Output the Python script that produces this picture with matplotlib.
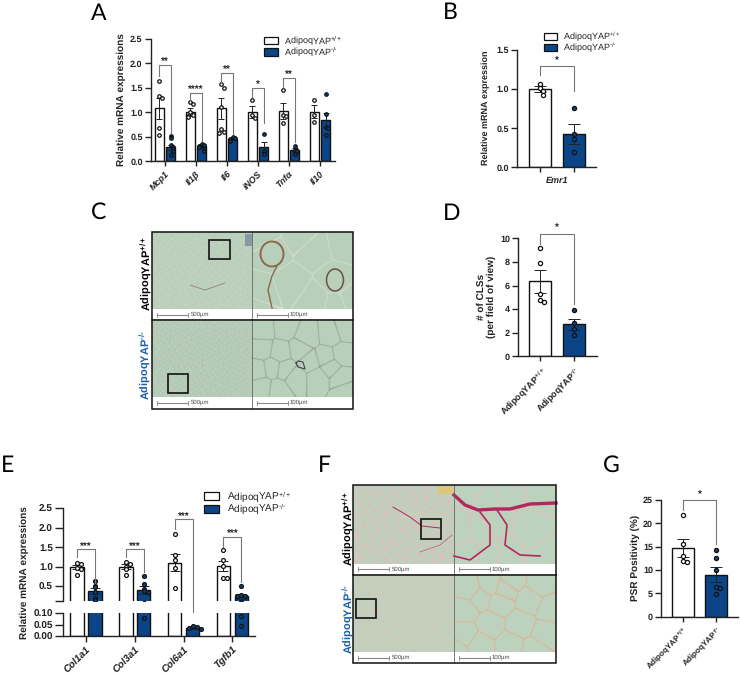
import numpy as np
import matplotlib
matplotlib.use('Agg')
import matplotlib.pyplot as plt
from matplotlib.patches import Rectangle, Ellipse

plt.rcParams['font.family'] = ['Liberation Sans', 'DejaVu Sans']
plt.rcParams['mathtext.fontset'] = 'custom'
plt.rcParams['mathtext.rm'] = 'Liberation Sans'
plt.rcParams['mathtext.bf'] = 'Liberation Sans:bold'
plt.rcParams['mathtext.default'] = 'regular'
plt.rcParams['text.hinting'] = 'no_hinting'
plt.rcParams['text.hinting_factor'] = 1

# panel A
a_genes = ['Mcp1', 'Il1β', 'Il6', 'iNOS', 'Tnfα', 'Il10']
a_wt_mean = [1.08, 1.00, 1.08, 1.01, 1.02, 1.01]
a_wt_err = [0.22, 0.08, 0.21, 0.12, 0.16, 0.13]
a_ko_mean = [0.29, 0.32, 0.46, 0.29, 0.23, 0.84]
a_ko_err = [0.05, 0.03, 0.02, 0.10, 0.04, 0.15]
a_wt_pts = [[1.64, 1.33, 1.30, 0.67, 0.54],
            [1.20, 1.17, 1.00, 0.95, 0.92, 0.90],
            [1.58, 1.50, 1.10, 0.65, 0.60, 0.58],
            [1.24, 0.95, 0.88],
            [1.45, 0.95, 0.93, 0.78],
            [1.24, 0.95, 0.81]]
a_ko_pts = [[0.52, 0.47, 0.33, 0.30, 0.25, 0.20, 0.13],
            [0.36, 0.34, 0.32, 0.30, 0.26, 0.22],
            [0.50, 0.48, 0.46, 0.44, 0.42],
            [0.56, 0.22, 0.14],
            [0.32, 0.24, 0.22, 0.15],
            [1.37, 0.97, 0.70, 0.68, 0.54]]
# group, bracket top, left leg end, right leg end, label
a_sig = [(0, 1.96, 1.74, 0.58, '**'), (1, 1.39, 1.25, 0.42, '****'), (2, 1.81, 1.62, 0.56, '**'),
         (3, 1.49, 1.32, 0.79, '*'), (4, 1.69, 1.51, 0.40, '**')]

# panel B
b_mean = [1.00, 0.43]
b_err = [0.04, 0.13]
b_pts = [[1.07, 1.02, 0.98, 0.93], [0.76, 0.42, 0.36, 0.19]]

# panel D
d_mean = [6.35, 2.70]
d_err = [0.95, 0.45]
d_pts = [[9.2, 7.9, 5.3, 4.8, 4.6], [3.9, 2.8, 2.3, 1.8]]

# panel E
e_genes = ['Col1a1', 'Col3a1', 'Col6a1', 'Tgfb1']
e_wt_mean = [1.00, 1.00, 1.10, 1.03]
e_wt_err = [0.05, 0.06, 0.22, 0.13]
e_ko_mean = [0.37, 0.40, 0.036, 0.24]
e_ko_err = [0.08, 0.10, 0.003, 0.06]
e_wt_pts = [[1.09, 1.06, 0.98, 0.95, 0.80],
            [1.13, 1.08, 1.00, 0.95, 0.80],
            [1.85, 1.30, 1.18, 0.98, 0.45],
            [1.42, 1.17, 1.02, 0.72, 0.70]]
e_ko_pts = [[0.64, 0.50, 0.47, 0.36, 0.20, 0.16],
            [0.77, 0.55, 0.42, 0.38, 0.36, 0.08],
            [0.045, 0.040, 0.035, 0.030],
            [0.50, 0.27, 0.26, 0.25, 0.24, 0.09, 0.045]]
e_sig = [(0, 1.45, 1.26, 0.58, '***'), (1, 1.45, 1.26, 0.87, '***'),
         (2, 2.22, 1.96, -0.15, '***'), (3, 1.77, 1.52, 0.62, '***')]

# panel G
g_mean = [14.7, 9.0]
g_err = [2.0, 1.6]
g_pts = [[21.8, 15.6, 13.0, 11.9, 11.7], [14.2, 12.5, 10.0, 6.3, 6.2, 4.8]]

WT_LABEL = 'AdipoqYAP$^{+/+}$'
KO_LABEL = 'AdipoqYAP$^{\u2010/\u2010}$'
NAVY = '#0b4487'
LABEL_BLUE = '#1a5fa8'
W, H = 740, 674

fig = plt.figure(figsize=(W / 100, H / 100), dpi=100)
bg = fig.add_axes([0, 0, 1, 1])
bg.set_axis_off()


def px_axes(x0, x1, ybot, ytop):
    ax = fig.add_axes([x0 / W, 1 - ybot / H, (x1 - x0) / W, (ybot - ytop) / H])
    ax.patch.set_alpha(0)
    for s in ['top', 'right']:
        ax.spines[s].set_visible(False)
    for s in ['left', 'bottom']:
        ax.spines[s].set_linewidth(1.0)
        ax.spines[s].set_color('#222222')
    ax.tick_params(colors='#222222', width=1.0)
    return ax


def swarm(vals, thresh, step):
    # push points sideways when they sit too close together
    off = []
    placed = []
    for v in vals:
        near = [p for p in placed if abs(p - v) < thresh]
        k = len(near)
        off.append(0 if k == 0 else ((k + 1) // 2) * step * (1 if k % 2 else -1))
        placed.append(v)
    return np.array(off)


def draw_bar(ax, x, mean, err, pts, color, width, cap, ms, thresh, step):
    ax.bar(x, mean, width, color=color, edgecolor='#111111', linewidth=1.0, zorder=2)
    ax.errorbar(x, mean, yerr=err, color='#222222', elinewidth=0.7, capsize=cap, capthick=0.7, zorder=3)
    ax.plot(x + swarm(pts, thresh, step), pts, 'o', ms=ms, mfc=color, mec='#111111', mew=0.9,
            zorder=4, clip_on=ax.get_label() == 'broken')


def bracket(ax, x1, x2, top, left, right, label, size=7, gap=0.01):
    ax.plot([x1, x1, x2, x2], [left, top, top, right], color='#777777', lw=0.8, zorder=5, clip_on=False)
    ax.text((x1 + x2) / 2, top + gap, label, ha='center', va='center', fontsize=size, fontweight='bold',
            color='#222222', clip_on=False)


def legend(x0, x1, h, y1, y2, xt, size):
    for y, c, t in [(y1, 'white', WT_LABEL), (y2, NAVY, KO_LABEL)]:
        bg.add_patch(Rectangle((x0, y), x1 - x0, h, fc=c, ec='#111111', lw=0.9))
        bg.text(xt, y + h / 2, t, fontsize=size, va='center', ha='left', color='#222222')


def two_bar_panel(x0, x1, ybot, ytop, ymax, yticks, ticklabels, centers, mean, err, pts, thresh, step):
    ax = px_axes(x0, x1, ybot, ytop)
    ax.set_xlim(x0, x1)
    ax.set_ylim(0, ymax)
    for i, c in enumerate([('white'), (NAVY)]):
        draw_bar(ax, centers[i], mean[i], err[i], np.array(pts[i]), c, 22, 4.2, 3.0, thresh, step)
    ax.set_yticks(yticks, ticklabels, fontsize=6.5, fontweight='bold')
    ax.tick_params(axis='y', length=4.5, pad=1.5)
    return ax


# panel A
ax = px_axes(151, 335, 161.3, 38.7)
ax.set_xlim(151, 335)
ax.set_ylim(0, 2.5)
a_x = 165 + 31 * np.arange(len(a_genes))
for i in range(len(a_genes)):
    draw_bar(ax, a_x[i] - 5.6, a_wt_mean[i], a_wt_err[i], np.array(a_wt_pts[i]), 'white', 8.6, 2.4, 2.5, 0.09, 2.4)
    draw_bar(ax, a_x[i] + 5.6, a_ko_mean[i], a_ko_err[i], np.array(a_ko_pts[i]), NAVY, 8.6, 2.4, 2.5, 0.05, 2.4)
for g, top, left, right, lab in a_sig:
    bracket(ax, a_x[g] - 5.6, a_x[g] + 5.6, top, left, right, lab, gap=0.07)
ax.set_xticks(a_x, a_genes, rotation=45, ha='right', rotation_mode='anchor',
              fontsize=6.6, fontweight='bold', fontstyle='italic')
ax.set_yticks([0, 0.5, 1, 1.5, 2, 2.5], ['0.0', '0.5', '1.0', '1.5', '2.0', '2.5'], fontsize=6.5, fontweight='bold')
ax.tick_params(axis='y', length=4.5, pad=1.5)
ax.tick_params(axis='x', length=3.5, pad=2.5)
bg.text(121.5, 100, 'Relative mRNA expressions', rotation=90, ha='center', va='center',
        fontsize=7.1, fontweight='bold', color='#222222')
legend(263.5, 277.5, 7.5, 36.7, 48.3, 284, 6.8)

# panel B
ax = two_bar_panel(517.3, 596, 167.3, 50, 1.5, [0, 0.5, 1, 1.5], ['0.0', '0.5', '1.0', '1.5'],
                   [540, 574], b_mean, b_err, b_pts, 0.05, 2.5)
bracket(ax, 540, 574, 1.29, 1.18, 0.98, '*', gap=0.07)
ax.set_xticks([540, 574], ['', ''])
ax.tick_params(axis='x', length=3.5)
bg.text(557, 180.5, 'Emr1', ha='center', va='center', fontsize=6.6, fontweight='bold', fontstyle='italic', color='#222222')
bg.text(486, 108, 'Relative mRNA expression', rotation=90, ha='center', va='center',
        fontsize=6.8, fontweight='bold', color='#222222')
legend(543.5, 557.3, 7, 32.7, 43.7, 563.3, 6.6)

# panel D
ax = two_bar_panel(518.3, 596.7, 356.3, 238.3, 10, [0, 2, 4, 6, 8, 10], ['0', '2', '4', '6', '8', '10'],
                   [540.3, 574], d_mean, d_err, d_pts, 0.45, 3.5)
bracket(ax, 540.3, 574, 10.4, 9.5, 4.4, '*', gap=0.5)
ax.set_xticks([540.3, 574], [WT_LABEL, KO_LABEL], rotation=45, ha='right', rotation_mode='anchor',
              fontsize=6.4, fontweight='bold')
ax.tick_params(axis='x', length=3.5, pad=2.5)
bg.text(486.5, 296.5, '# of CLSs\n(per field of view)', rotation=90, ha='center', va='center', ma='center',
        fontsize=7.4, fontweight='bold', color='#222222', linespacing=1.05)

# panel G
ax = two_bar_panel(661.3, 738.3, 616.7, 500, 25, [0, 5, 10, 15, 20, 25], ['0', '5', '10', '15', '20', '25'],
                   [683, 716.3], g_mean, g_err, g_pts, 1.0, 3.5)
bracket(ax, 683, 716.3, 24.9, 22.8, 15.6, '*', gap=1.2)
ax.set_xticks([683, 716.3], [WT_LABEL, KO_LABEL], rotation=45, ha='right', rotation_mode='anchor',
              fontsize=6.1, fontweight='bold')
ax.tick_params(axis='x', length=3.5, pad=2)
bg.text(635, 558, 'PSR Positivity (%)', rotation=90, ha='center', va='center',
        fontsize=6.9, fontweight='bold', color='#222222')

# panel E, broken y axis
upper = px_axes(63.3, 255, 601.3, 508.3)
lower = px_axes(63.3, 255, 636.3, 613.3)
upper.spines['bottom'].set_visible(False)
e_x = 86 + 48.8 * np.arange(len(e_genes))
for ax_e in [upper, lower]:
    ax_e.set_label('broken')
    ax_e.set_xlim(63.3, 255)
    for i in range(len(e_genes)):
        draw_bar(ax_e, e_x[i] - 8.9, e_wt_mean[i], e_wt_err[i], np.array(e_wt_pts[i]), 'white', 13.3, 3.5, 2.8, 0.05, 4)
        draw_bar(ax_e, e_x[i] + 8.9, e_ko_mean[i], e_ko_err[i], np.array(e_ko_pts[i]), NAVY, 13.3, 3.5, 2.8, 0.03, 4)
upper.set_ylim(0.115, 2.5)
lower.set_ylim(0, 0.1)
upper.set_xticks([])
upper.set_yticks([0.115, 0.5, 1, 1.5, 2, 2.5], ['', '0.5', '1.0', '1.5', '2.0', '2.5'], fontsize=7, fontweight='bold')
lower.set_yticks([0, 0.05, 0.1], ['0.00', '0.05', '0.10'], fontsize=7, fontweight='bold')
for ax_e in [upper, lower]:
    ax_e.tick_params(axis='y', length=6, pad=1.5)
for g, top, left, right, lab in e_sig:
    bracket(upper, e_x[g] - 8.9, e_x[g] + 8.9, top, left, right, lab, gap=0.08)
lower.set_xticks(e_x, e_genes, rotation=45, ha='right', rotation_mode='anchor',
                 fontsize=7.2, fontweight='bold', fontstyle='italic')
lower.tick_params(axis='x', length=4, pad=2)
bg.text(24, 572.5, 'Relative mRNA expressions', rotation=90, ha='center', va='center',
        fontsize=7.5, fontweight='bold', color='#222222')
legend(204, 219.3, 8, 492.3, 505, 226.7, 7.2)


# tissue images: cell outlines around seed points
def tissue(seeds, box, wall, base, thick):
    x0, x1, y0, y1 = box
    xx, yy = np.meshgrid(np.arange(x0, x1, 0.5), np.arange(y0, y1, 0.5))
    sx = np.array([s[0] for s in seeds])
    sy = np.array([s[1] for s in seeds])
    d = np.sqrt((xx[..., None] - sx) ** 2 + (yy[..., None] - sy) ** 2)
    d.sort(axis=-1)
    a = np.clip(1 - (d[..., 1] - d[..., 0]) / thick, 0, 1)[..., None]
    img = np.array(base) * (1 - a) + np.array(wall) * a
    bg.imshow(img, extent=[x0, x1, y1, y0], aspect='auto', interpolation='bilinear', zorder=1)


def lattice(box, step):
    x0, x1, y0, y1 = box
    out = []
    for i in range(int((x1 - x0) / step) + 2):
        for j in range(int((y1 - y0) / step) + 2):
            out.append((x0 + i * step + 0.4 * step * np.sin(j * 2.7 + i * 1.9),
                        y0 + j * step + 0.4 * step * np.cos(i * 2.3 + j * 1.1)))
    return out


GREEN_C = (0.725, 0.812, 0.733)
GREEN_F = (0.745, 0.825, 0.741)

c_tr = [(272, 253), (313, 250), (290, 283), (335, 280), (262, 292), (345, 243), (300, 236), (262, 235),
        (336, 305), (315, 300), (256, 308), (350, 300)]
c_br = [(263, 330), (285, 328), (307, 337), (330, 335), (345, 330), (262, 350), (280, 353), (300, 350), (325, 358),
        (342, 355), (258, 370), (272, 368), (295, 378), (318, 378), (340, 378), (262, 388), (278, 390), (345, 392),
        (330, 368), (310, 362), (285, 370)]
f_tr = [(487, 500), (480, 533), (530, 530), (467, 552), (497, 522), (510, 490), (470, 488), (507, 553), (547, 557),
        (460, 533), (543, 493), (490, 552)]
f_br = [(470, 590), (490, 585), (512, 580), (540, 585), (465, 610), (480, 598), (500, 603), (530, 600), (550, 608),
        (490, 625), (520, 625), (545, 635), (465, 635), (480, 645), (510, 645), (535, 650), (455, 650), (505, 590)]

c_boxes = [(152, 252.3, 232, 309), (252.3, 352.7, 232, 309), (152, 252.3, 320, 397.3), (252.3, 352.7, 320, 397.3)]
f_boxes = [(353, 454.3, 485, 563.7), (454.3, 556, 485, 563.7), (353, 454.3, 574.7, 652.3), (454.3, 556, 574.7, 652.3)]

tissue(lattice(c_boxes[0], 5), c_boxes[0], (0.80, 0.84, 0.77), GREEN_C, 0.8)
tissue(c_tr, c_boxes[1], (0.88, 0.90, 0.85), GREEN_C, 1.1)
tissue(lattice(c_boxes[2], 4), c_boxes[2], (0.67, 0.74, 0.67), GREEN_C, 0.7)
tissue(c_br, c_boxes[3], (0.50, 0.52, 0.48), GREEN_C, 0.9)
tissue(lattice(f_boxes[0], 7), f_boxes[0], (0.90, 0.72, 0.73), GREEN_F, 1.4)
tissue(f_tr, f_boxes[1], (0.92, 0.72, 0.72), GREEN_F, 1.5)
tissue(lattice(f_boxes[2], 4.5), f_boxes[2], (0.88, 0.76, 0.74), GREEN_F, 0.9)
tissue(f_br, f_boxes[3], (0.90, 0.66, 0.56), GREEN_F, 1.5)

# stained bits of the pictures
bg.add_patch(Ellipse((272, 254), 23, 25, fc='none', ec='#8a6a4c', lw=1.4, zorder=2))
bg.add_patch(Ellipse((335, 280), 17, 22, fc='none', ec='#6b5240', lw=1.1, zorder=2))
bg.plot([277, 272, 268, 272], [266, 276, 290, 308], color='#8a6a4c', lw=1.0, zorder=2)
bg.add_patch(Rectangle((245, 234), 6.5, 12, fc='#7c8aa0', ec='none', alpha=0.8, zorder=2))
bg.plot([296, 298, 305, 303, 298, 296], [363, 367, 369, 362, 361, 363], color='#444444', lw=0.8, zorder=2)
bg.plot([190, 205, 225], [285, 290, 283], color='#8a7460', lw=0.5, zorder=2)
bg.add_patch(Rectangle((438, 486), 15, 8, fc='#d9c77a', ec='none', zorder=2))
STAIN = '#b3275f'
bg.plot([454, 465, 478, 495, 510, 530, 556], [495, 505, 510, 509, 509, 504, 503], color=STAIN, lw=2.4, zorder=2)
bg.plot([497, 507, 505, 520, 540], [510, 525, 545, 555, 556], color=STAIN, lw=1.2, zorder=2)
bg.plot([454, 470, 490, 490, 480], [556, 560, 545, 525, 512], color=STAIN, lw=1.2, zorder=2)
bg.plot([393, 410, 422, 440], [507, 517, 526, 528], color=STAIN, lw=0.7, zorder=2)
bg.plot([420, 440, 452], [552, 545, 535], color=STAIN, lw=0.5, alpha=0.7, zorder=2)

# frames, inset boxes and scale bars
for left, mid, right, top, div, bot, boxes, bars, ys in [
    (151.7, 252.3, 352.7, 231.7, 320, 409,
     [(209, 229.7, 240, 259.3), (167.7, 188.3, 373.7, 393.3)], [(157.3, 188.3), (256.7, 287.7)], (314.7, 402.7)),
    (352.7, 454.3, 556, 485, 574.7, 663.3,
     [(420.7, 440.7, 519.3, 539.3), (355.7, 375.7, 598.7, 618.3)], [(358.3, 389.3), (459, 490)], (569.3, 657.7)),
]:
    bg.add_patch(Rectangle((left, top), right - left, bot - top, fc='none', ec='#111111', lw=1.1, zorder=4))
    bg.plot([left, right], [div, div], color='#111111', lw=1.1, zorder=4)
    bg.plot([mid, mid], [top, bot], color='#666666', lw=0.6, zorder=3)
    for bx in boxes:
        bg.add_patch(Rectangle((bx[0], bx[2]), bx[1] - bx[0], bx[3] - bx[2], fc='none', ec='#111111', lw=1.2, zorder=4))
    for y in ys:
        for (b0, b1), lab in zip(bars, ['500µm', '100µm']):
            bg.plot([b0, b1], [y, y], color='#888888', lw=0.8, zorder=3)
            bg.plot([b0, b0], [y - 2, y + 2], color='#888888', lw=0.6, zorder=3)
            bg.plot([b1, b1], [y - 2, y + 2], color='#888888', lw=0.6, zorder=3)
            bg.text(b1 + 2, y, lab, fontsize=4.6, va='center', ha='left', color='#444444', zorder=3)

for x, y, t, c in [(146.7, 273.5, WT_LABEL, 'black'), (145.5, 365.5, KO_LABEL, LABEL_BLUE),
                   (349, 528, WT_LABEL, 'black'), (349, 619, KO_LABEL, LABEL_BLUE)]:
    bg.text(x, y, t, rotation=90, ha='center', va='center', fontsize=8, fontweight='bold', color=c, zorder=5)

# panel letters
for x, y, t in [(91, 19.5, 'A'), (442.7, 18.7, 'B'), (91, 219, 'C'), (443, 220, 'D'),
                (1, 471.7, 'E'), (318, 471.7, 'F'), (603, 471.7, 'G')]:
    bg.text(x, y, t, fontsize=16.5, family='Lato', ha='left', va='baseline', color='black')

bg.set_xlim(0, W)
bg.set_ylim(H, 0)

fig.savefig('out.png', dpi=100)
